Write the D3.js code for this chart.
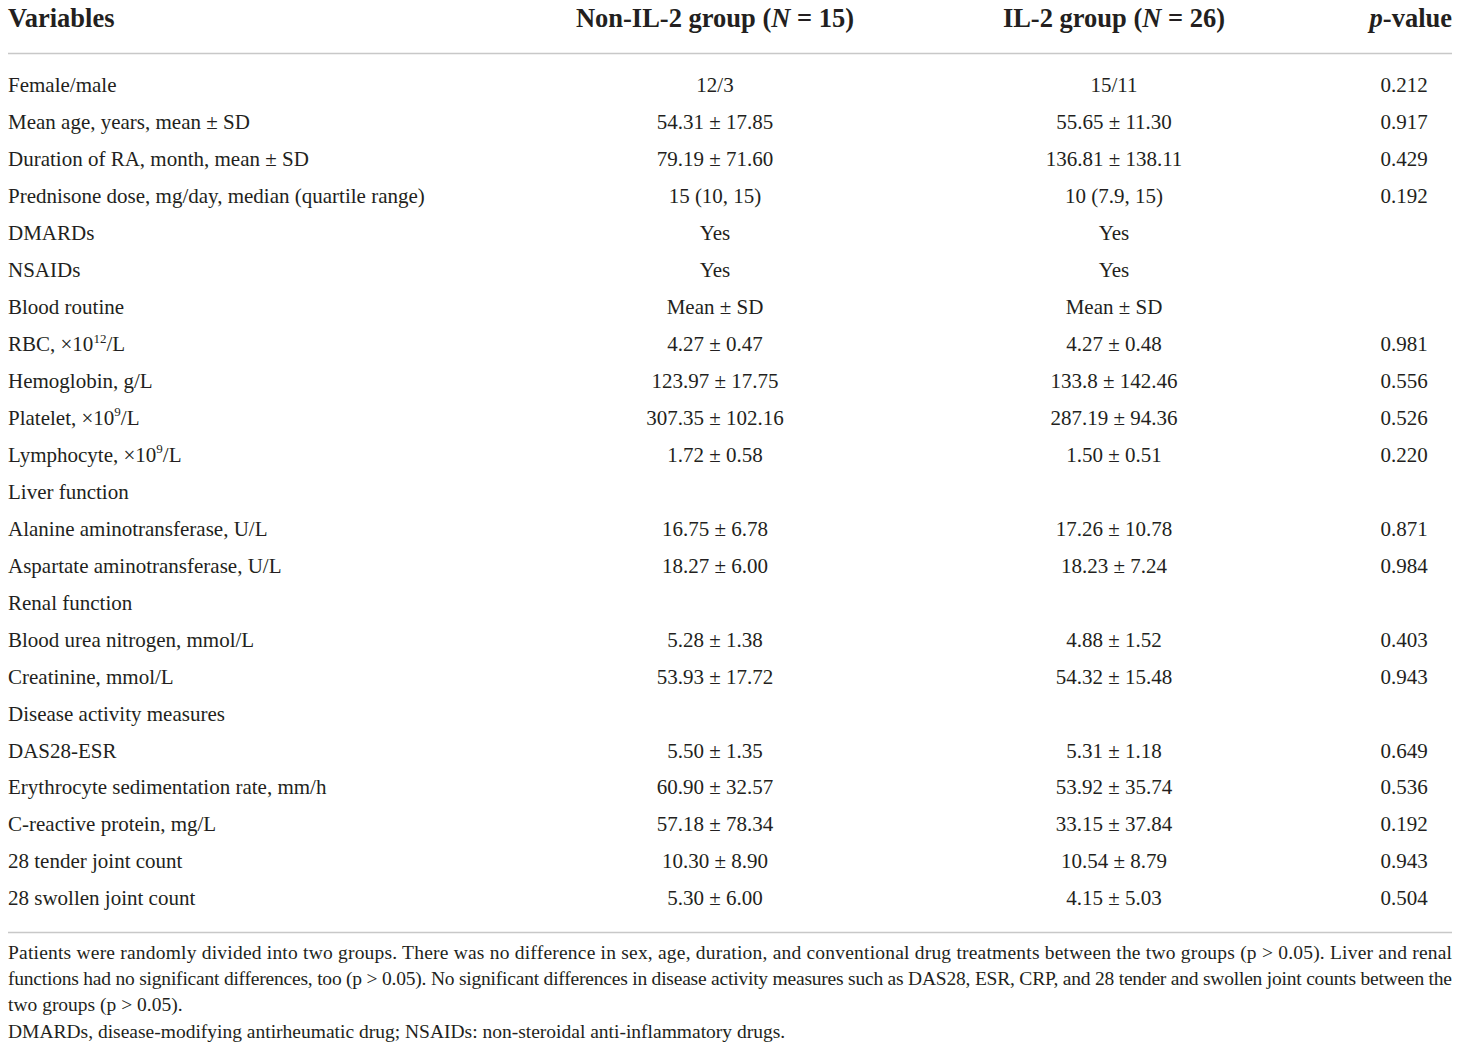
<!DOCTYPE html>
<html>
<head>
<meta charset="utf-8">
<script src="https://cdn.jsdelivr.net/npm/d3@7"></script>
<style>
  body { margin: 0; background: #fff; }
  text { font-family: "Liberation Serif", "DejaVu Serif", serif; fill: #231f20; }
</style>
</head>
<body>
<div id="tbl"></div>
<script>
// table content
const headers = ["Variables", "Non-IL-2 group (N = 15)", "IL-2 group (N = 26)", "p-value"];

// variable names; [base, superscript, tail] where a superscript is needed
const variables = [
  ["Female/male"],
  ["Mean age, years, mean ± SD"],
  ["Duration of RA, month, mean ± SD"],
  ["Prednisone dose, mg/day, median (quartile range)"],
  ["DMARDs"],
  ["NSAIDs"],
  ["Blood routine"],
  ["RBC, ×10", "12", "/L"],
  ["Hemoglobin, g/L"],
  ["Platelet, ×10", "9", "/L"],
  ["Lymphocyte, ×10", "9", "/L"],
  ["Liver function"],
  ["Alanine aminotransferase, U/L"],
  ["Aspartate aminotransferase, U/L"],
  ["Renal function"],
  ["Blood urea nitrogen, mmol/L"],
  ["Creatinine, mmol/L"],
  ["Disease activity measures"],
  ["DAS28-ESR"],
  ["Erythrocyte sedimentation rate, mm/h"],
  ["C-reactive protein, mg/L"],
  ["28 tender joint count"],
  ["28 swollen joint count"]
];

const nonIL2 = ["12/3", "54.31 ± 17.85", "79.19 ± 71.60", "15 (10, 15)", "Yes", "Yes", "Mean ± SD",
  "4.27 ± 0.47", "123.97 ± 17.75", "307.35 ± 102.16", "1.72 ± 0.58", "",
  "16.75 ± 6.78", "18.27 ± 6.00", "", "5.28 ± 1.38", "53.93 ± 17.72", "",
  "5.50 ± 1.35", "60.90 ± 32.57", "57.18 ± 78.34", "10.30 ± 8.90", "5.30 ± 6.00"];

const il2 = ["15/11", "55.65 ± 11.30", "136.81 ± 138.11", "10 (7.9, 15)", "Yes", "Yes", "Mean ± SD",
  "4.27 ± 0.48", "133.8 ± 142.46", "287.19 ± 94.36", "1.50 ± 0.51", "",
  "17.26 ± 10.78", "18.23 ± 7.24", "", "4.88 ± 1.52", "54.32 ± 15.48", "",
  "5.31 ± 1.18", "53.92 ± 35.74", "33.15 ± 37.84", "10.54 ± 8.79", "4.15 ± 5.03"];

const pValues = ["0.212", "0.917", "0.429", "0.192", "", "", "",
  "0.981", "0.556", "0.526", "0.220", "",
  "0.871", "0.984", "", "0.403", "0.943", "",
  "0.649", "0.536", "0.192", "0.943", "0.504"];

// footnote lines as broken in the source; true = justified line
const notes = [
  ["Patients were randomly divided into two groups. There was no difference in sex, age, duration, and conventional drug treatments between the two groups (p > 0.05). Liver and renal", true],
  ["functions had no significant differences, too (p > 0.05). No significant differences in disease activity measures such as DAS28, ESR, CRP, and 28 tender and swollen joint counts between the", true],
  ["two groups (p > 0.05).", false],
  ["DMARDs, disease-modifying antirheumatic drug; NSAIDs: non-steroidal anti-inflammatory drugs.", false]
];

const width = 1460;
const height = 1049;
const left = 8, right = 1452;

const svg = d3.select("#tbl").append("svg")
  .attr("width", width)
  .attr("height", height);

// row positions
const y = d3.scalePoint()
  .domain(d3.range(variables.length))
  .range([85, 898]);

// column centres
const colX = [left, 715, 1114, 1404];

// header
const head = svg.append("g").attr("font-weight", "bold").attr("font-size", 26.5);

head.append("text").attr("x", left).attr("y", 18).attr("dy", "0.35em").text(headers[0]);

[1, 2].forEach(i => {
  const m = headers[i].match(/^(.*\()N( = \d+\))$/);
  const t = head.append("text").attr("x", colX[i]).attr("y", 18).attr("dy", "0.35em")
    .attr("text-anchor", "middle");
  t.append("tspan").text(m[1]);
  t.append("tspan").attr("font-style", "italic").text("N");
  t.append("tspan").text(m[2]);
});

const pt = head.append("text").attr("x", right).attr("y", 18).attr("dy", "0.35em")
  .attr("text-anchor", "end");
pt.append("tspan").attr("font-style", "italic").text("p");
pt.append("tspan").text("-value");

// rules
svg.append("line").attr("x1", left).attr("x2", right).attr("y1", 53.5).attr("y2", 53.5)
  .attr("stroke", "#c8c8c8").attr("stroke-width", 1.5);
svg.append("line").attr("x1", left).attr("x2", right).attr("y1", 932.5).attr("y2", 932.5)
  .attr("stroke", "#c8c8c8").attr("stroke-width", 1.5);

// body
const body = svg.append("g").attr("font-size", 21);

const varText = body.selectAll(".var")
  .data(variables)
  .enter()
  .append("text")
  .attr("class", "var")
  .attr("x", left)
  .attr("y", (d, i) => y(i))
  .attr("dy", "0.35em");

varText.append("tspan").text(d => d[0]);
varText.filter(d => d.length > 1).append("tspan")
  .attr("font-size", 13).attr("dy", "-0.65em").text(d => d[1]);
varText.filter(d => d.length > 1).append("tspan")
  .attr("dy", "0.42em").text(d => d[2]);

[nonIL2, il2, pValues].forEach((col, c) => {
  body.selectAll(".c" + c)
    .data(col)
    .enter()
    .append("text")
    .attr("class", "c" + c)
    .attr("x", colX[c + 1])
    .attr("y", (d, i) => y(i))
    .attr("dy", "0.35em")
    .attr("text-anchor", "middle")
    .text(d => d);
});

// footnotes
const ny = d3.scalePoint().domain(d3.range(notes.length)).range([952, 1031]);

svg.append("g").attr("font-size", 19.5)
  .selectAll("text")
  .data(notes)
  .enter()
  .append("text")
  .attr("x", left)
  .attr("y", (d, i) => ny(i))
  .attr("dy", "0.35em")
  .each(function(d) {
    if (d[1]) d3.select(this).attr("textLength", right - left).attr("lengthAdjust", "spacing");
  })
  .text(d => d[0]);
</script>
</body>
</html>
